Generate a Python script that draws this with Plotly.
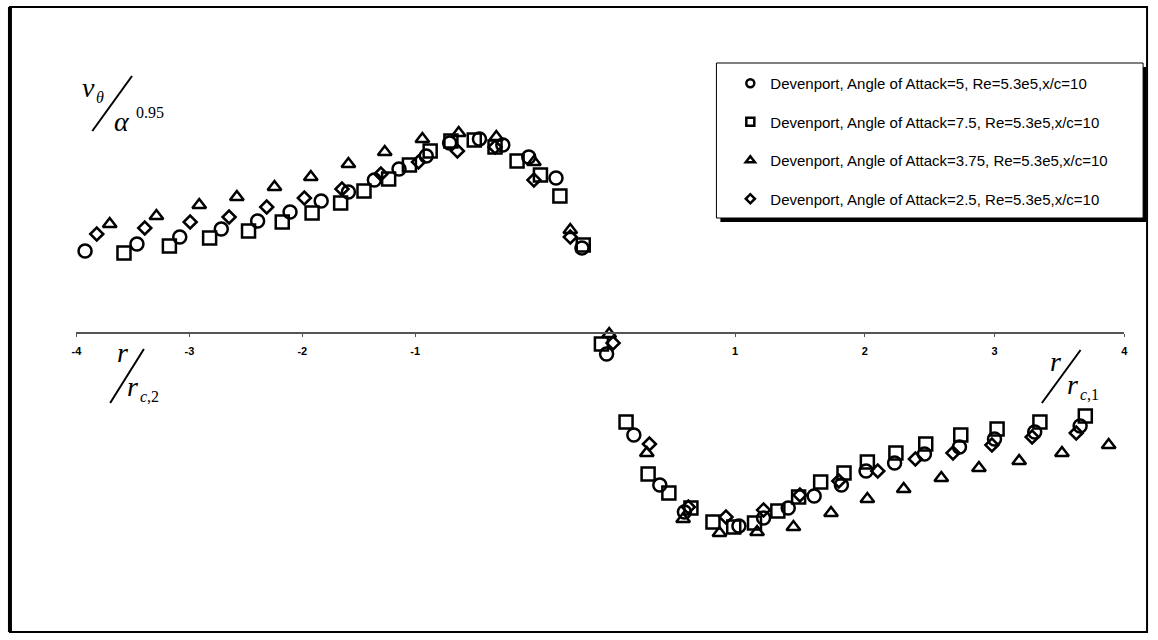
import plotly.graph_objects as go

# ---------------- data (r/r_c , v_theta/alpha^0.95) ----------------
circle_x = [-4.01, -3.61, -3.28, -2.96, -2.68, -2.43, -2.19, -1.98, -1.78, -1.59, -1.38, -1.20, -0.97,
            -0.79, -0.59, -0.38, -0.18, 0.01, 0.22, 0.42, 0.61, 1.03, 1.22, 1.41, 1.61, 1.82, 2.01,
            2.23, 2.46, 2.73, 3.00, 3.31, 3.66]
circle_y = [0.82, 0.89, 0.96, 1.04, 1.12, 1.21, 1.32, 1.41, 1.53, 1.64, 1.77, 1.90, 1.94,
            1.88, 1.76, 1.55, 0.85, -0.21, -1.02, -1.52, -1.79, -1.93, -1.85, -1.75, -1.63, -1.52, -1.38,
            -1.30, -1.21, -1.14, -1.06, -0.99, -0.93]

square_x = [-3.71, -3.36, -3.05, -2.75, -2.49, -2.26, -2.04, -1.86, -1.67, -1.51, -1.35, -1.19, -1.01,
            -0.85, -0.68, -0.50, -0.35, -0.17, -0.03, 0.16, 0.33, 0.49, 0.66, 0.83, 0.99, 1.15, 1.33,
            1.49, 1.66, 1.84, 2.02, 2.24, 2.47, 2.74, 3.02, 3.35, 3.70]
square_y = [0.80, 0.87, 0.95, 1.02, 1.11, 1.20, 1.30, 1.42, 1.54, 1.68, 1.82, 1.92, 1.93,
            1.86, 1.72, 1.58, 1.37, 0.88, -0.11, -0.89, -1.41, -1.60, -1.75, -1.89, -1.94, -1.90, -1.78,
            -1.64, -1.49, -1.40, -1.29, -1.20, -1.11, -1.02, -0.96, -0.89, -0.83]

triangle_x = [-3.82, -3.46, -3.13, -2.84, -2.55, -2.27, -1.98, -1.70, -1.41, -1.13, -0.84, -0.55, -0.27,
              0.03, 0.32, 0.60, 0.88, 1.17, 1.45, 1.74, 2.02, 2.30, 2.59, 2.88, 3.19, 3.52, 3.88]
triangle_y = [1.09, 1.17, 1.28, 1.36, 1.46, 1.56, 1.69, 1.81, 1.94, 2.00, 1.96, 1.71, 1.03,
              -0.01, -1.20, -1.86, -2.00, -1.99, -1.94, -1.80, -1.66, -1.56, -1.45, -1.35, -1.28, -1.20, -1.12]

diamond_x = [-3.92, -3.55, -3.20, -2.90, -2.61, -2.32, -2.03, -1.73, -1.44, -1.14, -0.85, -0.55, -0.27,
             0.06, 0.34, 0.64, 0.93, 1.22, 1.50, 1.80, 2.10, 2.39, 2.68, 2.98, 3.29, 3.63]
diamond_y = [0.99, 1.05, 1.11, 1.16, 1.26, 1.35, 1.44, 1.59, 1.71, 1.82, 1.86, 1.53, 0.96,
             -0.10, -1.11, -1.74, -1.84, -1.77, -1.62, -1.48, -1.38, -1.26, -1.20, -1.12, -1.04, -1.00]

series_names = [
    "Devenport, Angle of Attack=5, Re=5.3e5,x/c=10",
    "Devenport, Angle of Attack=7.5, Re=5.3e5,x/c=10",
    "Devenport, Angle of Attack=3.75, Re=5.3e5,x/c=10",
    "Devenport, Angle of Attack=2.5, Re=5.3e5,x/c=10",
]
right_ticks = [1, 2, 3, 4]
left_ticks = [-4, -3, -2, -1]

# ---------------- layout helpers ----------------
W, H = 1158, 640
def fx(p):
    return p / W
def fy(p):
    return 1 - p / H

X0_PX, X1_PX, ZERO_PX, UNIT_PX = 72, 1128, 605, 130.75      # main (data) axis
LEFT_UNIT_PX = 113.8                                        # left label axis
AXIS_Y_PX = 333
Y_UNIT_PX = 100

main_range = [(X0_PX - ZERO_PX) / UNIT_PX, (X1_PX - ZERO_PX) / UNIT_PX]
left_range = [-4, -4 + (X1_PX - X0_PX) / LEFT_UNIT_PX]
y_range = [(AXIS_Y_PX - H) / Y_UNIT_PX, AXIS_Y_PX / Y_UNIT_PX]

styles = [
    dict(symbol="circle-open", size=13, lsize=8),
    dict(symbol="square-open", size=13, lsize=8),
    dict(symbol="triangle-up-open", size=12, lsize=8),
    dict(symbol="diamond-open", size=10, lsize=7),
]
xs = [circle_x, square_x, triangle_x, diamond_x]
ys = [circle_y, square_y, triangle_y, diamond_y]

fig = go.Figure()
for i in range(4):
    st = styles[i]
    fig.add_trace(go.Scatter(
        x=xs[i], y=ys[i], mode="markers", name=series_names[i],
        legendgroup=f"g{i}", showlegend=False, cliponaxis=False, hoverinfo="x+y",
        marker=dict(symbol=st["symbol"], size=st["size"], color="black", line=dict(width=2.5, color="black")),
    ))
    fig.add_trace(go.Scatter(
        x=[None], y=[None], mode="markers", name=series_names[i],
        legendgroup=f"g{i}", showlegend=True,
        marker=dict(symbol=st["symbol"], size=st["lsize"], color="black", line=dict(width=2.5, color="black")),
    ))
# carrier for the left tick-label axis
fig.add_trace(go.Scatter(x=[None], y=[None], xaxis="x2", yaxis="y", showlegend=False, hoverinfo="skip"))

tickfont = dict(family="Liberation Sans, Arial", size=11, color="black", weight="bold")
fig.update_layout(
    width=W, height=H,
    margin=dict(l=0, r=0, t=0, b=0),
    paper_bgcolor="white", plot_bgcolor="white",
    xaxis=dict(domain=[fx(X0_PX), fx(X1_PX)], range=main_range, anchor="free", position=(H - AXIS_Y_PX) / H,
               showline=True, linecolor="#555555", linewidth=1.6, showgrid=False, zeroline=False,
               tickmode="array", tickvals=right_ticks, ticktext=[str(t) for t in right_ticks],
               ticks="outside", ticklen=3, tickwidth=1,
               tickcolor="#555555", tickfont=tickfont, ticklabelstandoff=5),
    xaxis2=dict(domain=[fx(X0_PX), fx(X1_PX)], range=left_range, overlaying="x", anchor="free",
                position=(H - AXIS_Y_PX) / H, side="bottom",
                showline=False, showgrid=False, zeroline=False,
                tickmode="array", tickvals=left_ticks, ticktext=[str(t) for t in left_ticks],
                ticks="outside", ticklen=3, tickwidth=1,
                tickcolor="#555555", tickfont=tickfont, ticklabelstandoff=5),
    yaxis=dict(domain=[0, 1], range=y_range, visible=False, showgrid=False, zeroline=False),
    showlegend=True,
    legend=dict(x=fx(731), y=fy(67), xanchor="left", yanchor="top", bgcolor="rgba(0,0,0,0)",
                borderwidth=0, tracegroupgap=16, traceorder="grouped",
                font=dict(family="Liberation Sans, Arial", size=15, color="black")),
)

shapes = [
    # outer frame
    dict(type="rect", xref="paper", yref="paper", x0=fx(5), x1=fx(1151), y0=fy(632), y1=fy(7),
         line=dict(color="black", width=2), layer="below"),
    dict(type="line", xref="paper", yref="paper", x0=fx(5), x1=fx(5), y0=fy(632), y1=fy(7),
         line=dict(color="black", width=4), layer="below"),
    # legend shadow + box
    dict(type="rect", xref="paper", yref="paper", x0=fx(721), x1=fx(1150), y0=fy(222), y1=fy(67),
         fillcolor="black", line=dict(width=0), layer="below"),
    dict(type="rect", xref="paper", yref="paper", x0=fx(717), x1=fx(1147), y0=fy(218), y1=fy(63),
         fillcolor="white", line=dict(color="black", width=1), layer="below"),
    # slashes of the axis labels
    dict(type="line", xref="paper", yref="paper", x0=fx(128), y0=fy(76), x1=fx(88), y1=fy(131),
         line=dict(color="black", width=2)),
    dict(type="line", xref="paper", yref="paper", x0=fx(140), y0=fy(349), x1=fx(106), y1=fy(403),
         line=dict(color="black", width=2)),
    dict(type="line", xref="paper", yref="paper", x0=fx(1084), y0=fy(350), x1=fx(1045), y1=fy(403),
         line=dict(color="black", width=2)),
]
fig.update_layout(shapes=shapes)

serif = "Liberation Serif, Times New Roman, serif"
def ann(text, xp, yp, size):
    return dict(text=text, x=fx(xp), y=fy(yp), xref="paper", yref="paper", showarrow=False,
                xanchor="center", yanchor="middle", font=dict(family=serif, size=size, color="black"))

annotations = [
    ann("<i>v</i>", 84, 87, 28),
    ann("<i>θ</i>", 96, 97, 16),
    ann("<i>α</i>", 118, 121, 28),
    ann("0.95", 146, 112, 16),
    ann("<i>r</i>", 118, 352, 28),
    ann("<i>r</i>", 129, 386, 28),
    ann("<i>c</i>,2", 146, 396, 16),
    ann("<i>r</i>", 1059, 361, 28),
    ann("<i>r</i>", 1076, 384, 28),
    ann("<i>c</i>,1", 1093, 394, 16),
]
fig.update_layout(annotations=annotations)

fig.write_html("out.html")
